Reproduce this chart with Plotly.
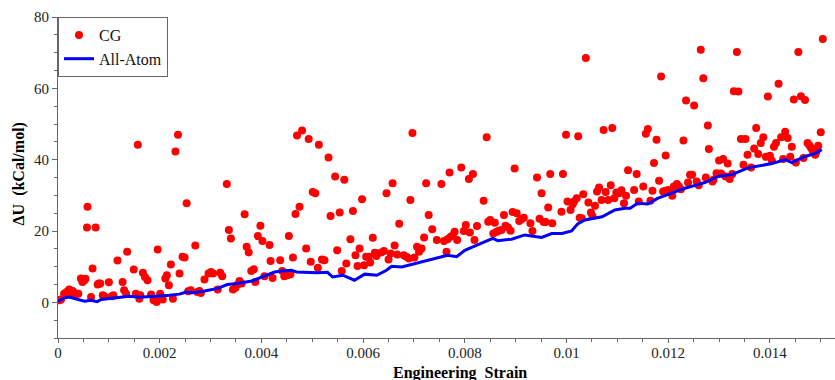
import plotly.graph_objects as go

# CG data (engineering strain, dU in kCal/mol)
cg_strain = [
    0.00003, 0.00006, 0.00012, 0.00017, 0.00022, 0.00026, 0.00029, 0.00032, 0.00036, 0.0004,
    0.00045, 0.00048, 0.00052, 0.00054, 0.00057, 0.00058, 0.00065, 0.00068, 0.00074, 0.00078,
    0.0008, 0.00083, 0.00088, 0.00091, 0.001, 0.00106, 0.00109, 0.00117, 0.00127, 0.0013,
    0.00134, 0.00136, 0.00149, 0.00153, 0.00157, 0.0016, 0.00162, 0.00167, 0.00171, 0.00176,
    0.00183, 0.00188, 0.00192, 0.00194, 0.00196, 0.00201, 0.00206, 0.00211, 0.00214, 0.00218,
    0.00222, 0.00226, 0.00231, 0.00236, 0.00239, 0.00245, 0.00249, 0.00253, 0.00256, 0.00261,
    0.0027, 0.00274, 0.00278, 0.00281, 0.00288, 0.00296, 0.00301, 0.00305, 0.00314, 0.00319,
    0.00323, 0.00332, 0.00336, 0.0034, 0.00344, 0.00349, 0.00354, 0.00357, 0.00361, 0.00367,
    0.00371, 0.00375, 0.0038, 0.00385, 0.00388, 0.00393, 0.00398, 0.00402, 0.00406, 0.00416,
    0.00418, 0.00422, 0.00437, 0.00441, 0.00445, 0.00451, 0.00454, 0.00457, 0.00462, 0.00467,
    0.0047, 0.00475, 0.0048, 0.00488, 0.00493, 0.00497, 0.00501, 0.00506, 0.00511, 0.00513,
    0.00519, 0.00524, 0.00532, 0.00536, 0.00545, 0.00549, 0.00554, 0.00558, 0.00563, 0.00567,
    0.00575, 0.0058, 0.00585, 0.00589, 0.00593, 0.00598, 0.00602, 0.00606, 0.00611, 0.00614,
    0.00619, 0.00623, 0.00626, 0.00629, 0.00636, 0.00641, 0.00646, 0.0065, 0.00654, 0.00658,
    0.00662, 0.00667, 0.00671, 0.0068, 0.00685, 0.0069, 0.00693, 0.00697, 0.00701, 0.00706,
    0.0071, 0.00715, 0.0072, 0.00724, 0.00729, 0.00736, 0.00745, 0.00754, 0.00759, 0.00764,
    0.00766, 0.0077, 0.00772, 0.00777, 0.0078, 0.00785, 0.00793, 0.00798, 0.00802, 0.00808,
    0.0081, 0.00816, 0.00819, 0.00824, 0.00837, 0.00843, 0.00846, 0.0085, 0.00856, 0.00859,
    0.00863, 0.00867, 0.00872, 0.00877, 0.0088, 0.00885, 0.0089, 0.00894, 0.00898, 0.00902,
    0.00907, 0.00911, 0.00916, 0.00929, 0.00933, 0.00942, 0.00947, 0.00951, 0.00955, 0.00959,
    0.00964, 0.00968, 0.00972, 0.0099, 0.00993, 0.00999, 0.01002, 0.01008, 0.01012, 0.01015,
    0.0102, 0.01023, 0.01026, 0.0103, 0.01033, 0.01038, 0.01043, 0.01048, 0.01051, 0.01056,
    0.0106, 0.01064, 0.01069, 0.01073, 0.01077, 0.01082, 0.01087, 0.0109, 0.01094, 0.01098,
    0.01103, 0.01108, 0.01113, 0.01117, 0.01121, 0.01133, 0.01138, 0.01142, 0.01151, 0.01156,
    0.0116, 0.01165, 0.01169, 0.01172, 0.01177, 0.01182, 0.01186, 0.0119, 0.01195, 0.01195,
    0.012, 0.01205, 0.01208, 0.01211, 0.01217, 0.01221, 0.01225, 0.0123, 0.01235, 0.01239,
    0.01243, 0.01247, 0.01251, 0.01256, 0.0126, 0.01264, 0.01269, 0.01274, 0.01278, 0.0128,
    0.01287, 0.01289, 0.01295, 0.013, 0.01304, 0.01308, 0.01313, 0.01317, 0.01321, 0.01326,
    0.01329, 0.01335, 0.01338, 0.01343, 0.01348, 0.01352, 0.01356, 0.01363, 0.01369, 0.01373,
    0.01377, 0.01382, 0.01387, 0.01392, 0.01396, 0.014, 0.01404, 0.01408, 0.01412, 0.01417,
    0.01422, 0.01426, 0.0143, 0.01435, 0.0144, 0.01443, 0.01447, 0.01451, 0.01456, 0.01461,
    0.01466, 0.01469, 0.01474, 0.01478, 0.01481, 0.01484, 0.01489, 0.01491, 0.01495, 0.015,
    0.01504,
]
cg_du = [
    0.6, 0.8, 2.4, 2.9, 3.6, 2.6, 3.2, 2.6, 2.4, 2.4,
    6.7, 5.7, 6.2, 6.6, 21.0, 26.8, 1.5, 9.5, 21.0, 5.0,
    5.3, 5.3, 2.0, 1.7, 5.6, 1.7, 2.0, 11.7, 5.7, 3.4,
    2.4, 14.2, 9.2, 2.4, 44.2, 1.0, 2.0, 8.3, 7.1, 6.2,
    2.2, 0.6, 0.6, 0.1, 14.8, 2.4, 0.8, 6.7, 7.6, 4.8,
    10.6, 1.0, 42.3, 47.0, 8.1, 12.8, 12.6, 27.8, 3.1, 3.4,
    15.9, 2.9, 3.2, 2.6, 6.4, 8.1, 8.5, 8.1, 3.6, 8.3,
    7.3, 33.2, 20.3, 17.9, 3.6, 4.1, 5.1, 6.0, 5.3, 24.7,
    15.6, 14.0, 8.8, 9.3, 5.7, 18.6, 21.5, 17.2, 7.3, 16.1,
    11.6, 6.8, 11.8, 8.8, 7.3, 7.6, 18.6, 7.9, 12.6, 24.8,
    46.8, 26.8, 48.2, 15.1, 45.8, 11.4, 30.9, 30.6, 9.7, 44.2,
    12.0, 11.8, 40.6, 24.2, 35.3, 14.6, 25.2, 8.8, 34.4, 10.9,
    17.7, 25.6, 13.2, 10.2, 15.1, 28.9, 10.4, 12.8, 12.8, 11.2,
    18.1, 13.9, 13.0, 13.7, 14.0, 14.4, 30.6, 12.0, 13.7, 33.4,
    15.9, 13.4, 22.0, 13.2, 12.8, 12.3, 28.7, 47.5, 12.6, 15.6,
    14.2, 15.1, 18.2, 33.4, 24.5, 20.5, 17.5, 33.2, 17.2, 14.2,
    17.7, 36.4, 18.4, 18.9, 19.8, 17.5, 37.8, 20.0, 21.7, 34.6,
    19.6, 36.0, 17.5, 21.4, 28.5, 46.3, 22.6, 23.1, 19.3, 22.3,
    19.8, 20.1, 20.3, 24.5, 21.5, 21.0, 20.1, 25.3, 37.5, 25.0,
    22.8, 23.3, 23.7, 22.2, 20.0, 35.0, 23.4, 30.6, 22.5, 22.5,
    26.6, 36.0, 22.2, 25.4, 36.0, 47.0, 28.3, 25.9, 27.5, 28.3,
    29.2, 46.6, 23.7, 23.6, 30.3, 68.5, 28.0, 25.2, 24.2, 27.1,
    31.1, 32.2, 28.7, 48.3, 30.9, 28.7, 32.8, 48.9, 29.2, 30.8,
    30.6, 31.4, 27.8, 29.9, 37.0, 31.5, 36.0, 28.3, 32.5, 47.3,
    48.6, 28.5, 31.3, 39.1, 45.6, 34.1, 63.3, 31.1, 31.3, 41.2,
    31.5, 30.8, 29.9, 32.5, 33.2, 32.5, 31.7, 45.4, 56.6, 33.6,
    35.8, 35.8, 55.2, 33.9, 32.8, 70.8, 62.8, 35.0, 49.6, 43.0,
    33.9, 34.4, 36.2, 39.8, 36.1, 40.2, 35.3, 38.9, 34.6, 36.0,
    59.2, 70.2, 59.1, 45.8, 38.6, 45.8, 41.4, 37.8, 43.1, 48.9,
    41.6, 44.7, 46.3, 40.8, 57.7, 41.1, 39.7, 43.6, 44.7, 61.3,
    46.3, 40.2, 47.8, 46.1, 40.8, 43.6, 56.9, 39.2, 70.2, 57.8,
    40.5, 56.7, 44.7, 44.0, 43.3, 42.5, 41.4, 42.1, 43.9, 47.7,
    73.8,
]

# All-Atom data
aa_strain = [
    0.0, 0.00012, 0.00022, 0.00035, 0.00052, 0.00065, 0.00077, 0.00085, 0.00101, 0.00121,
    0.0014, 0.0016, 0.0018, 0.00199, 0.00219, 0.00239, 0.00252, 0.00265, 0.00288, 0.00314,
    0.00333, 0.00353, 0.00381, 0.00406, 0.00426, 0.0044, 0.00459, 0.00469, 0.00485, 0.0051,
    0.0053, 0.0054, 0.0056, 0.00583, 0.00603, 0.00627, 0.00646, 0.00656, 0.00676, 0.00702,
    0.00727, 0.00747, 0.00766, 0.00784, 0.008, 0.00825, 0.00855, 0.00865, 0.00892, 0.00918,
    0.00951, 0.00971, 0.00991, 0.0101, 0.01022, 0.01036, 0.0107, 0.01095, 0.01115, 0.01125,
    0.0114, 0.0116, 0.0118, 0.01207, 0.01233, 0.01258, 0.01272, 0.01298, 0.01325, 0.01357,
    0.0139, 0.01404, 0.0143, 0.01443, 0.01469, 0.01488, 0.01502,
]
aa_du = [
    0.3, 1.2, 1.5, 1.0, 0.3, 0.6, 0.2, 0.8, 1.1, 1.5,
    1.7, 1.4, 1.7, 1.8, 2.0, 2.3, 2.9, 2.7, 3.2, 3.9,
    5.0, 5.3, 6.0, 7.4, 8.5, 8.8, 9.0, 8.5, 8.4, 8.3,
    8.4, 7.1, 7.6, 6.2, 7.9, 7.6, 9.0, 10.1, 9.9, 10.9,
    11.8, 12.6, 13.2, 12.8, 14.6, 16.1, 17.9, 17.3, 17.7, 18.9,
    18.2, 19.3, 19.3, 20.0, 22.0, 23.1, 24.0, 25.9, 26.4, 26.4,
    27.8, 27.6, 29.2, 30.6, 32.0, 33.0, 33.6, 35.3, 35.8, 37.7,
    38.6, 38.9, 40.0, 39.2, 40.9, 41.7, 42.8,
]

x_ticks = [0, 0.002, 0.004, 0.006, 0.008, 0.01, 0.012, 0.014]
x_labels = ["0", "0.002", "0.004", "0.006", "0.008", "0.01", "0.012", "0.014"]
y_ticks = [0, 20, 40, 60, 80]

SERIF = "Liberation Serif"
AX = "#666666"

fig = go.Figure()
fig.add_trace(go.Scatter(
    x=cg_strain, y=cg_du, mode="markers", name="CG",
    marker=dict(color="#ff0000", size=8, line=dict(width=0)),
))
fig.add_trace(go.Scatter(
    x=aa_strain, y=aa_du, mode="lines", name="All-Atom",
    line=dict(color="#0000ff", width=3),
))

fig.update_layout(
    template="none",
    width=835, height=380,
    margin=dict(l=58, r=0, t=17, b=42),
    plot_bgcolor="white", paper_bgcolor="white",
    showlegend=True,
    legend=dict(
        x=0, y=1, xanchor="left", yanchor="top",
        bgcolor="white", bordercolor=AX, borderwidth=1,
        font=dict(family=SERIF, size=16, color="#111111"),
    ),
)
fig.update_xaxes(
    range=[0, 0.01528], showgrid=False, zeroline=False,
    showline=True, linecolor=AX, linewidth=1,
    ticks="outside", ticklen=4, tickcolor=AX,
    tickvals=x_ticks, ticktext=x_labels,
    tickfont=dict(family=SERIF, size=15, color="#222222"),
    minor=dict(dtick=0.0005, ticks="outside", ticklen=3, tickcolor=AX, showgrid=False),
)
fig.update_yaxes(
    range=[-10, 80], showgrid=False, zeroline=False,
    showline=True, linecolor=AX, linewidth=1,
    ticks="outside", ticklen=5, tickcolor=AX,
    tickvals=y_ticks,
    tickfont=dict(family=SERIF, size=15, color="#222222"),
    minor=dict(dtick=5, ticks="outside", ticklen=3, tickcolor=AX, showgrid=False),
)
try:
    fig.update_xaxes(ticklabelstandoff=-3)
except Exception:
    pass
fig.add_annotation(text="<b>Engineering  Strain</b>", xref="paper", yref="paper",
                   x=0.517, y=-0.11, xanchor="center", yanchor="middle", showarrow=False,
                   font=dict(family=SERIF, size=16, color="#000000"))
fig.add_annotation(text="<b>ΔU  (kCal/mol)</b>", xref="paper", yref="paper",
                   x=-0.05, y=0.51, xanchor="center", yanchor="middle", showarrow=False,
                   textangle=-90, font=dict(family=SERIF, size=16, color="#000000"))

fig.write_html("out.html")
